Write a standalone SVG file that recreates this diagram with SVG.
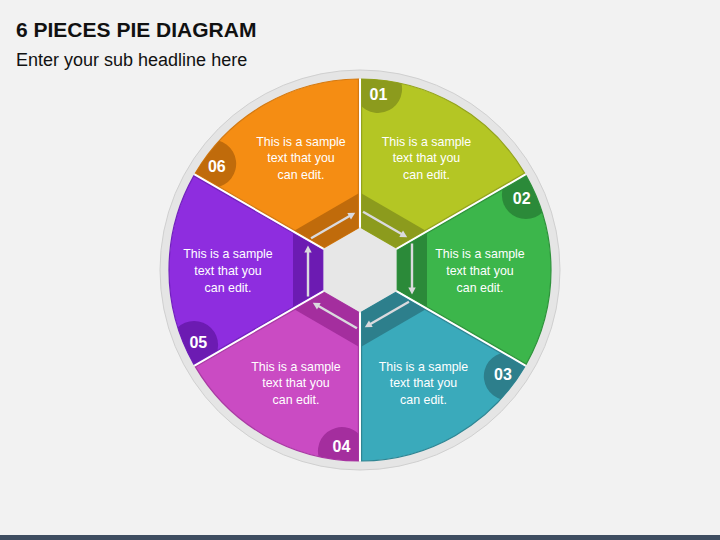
<svg xmlns="http://www.w3.org/2000/svg" xmlns:xlink="http://www.w3.org/1999/xlink" width="720" height="540" viewBox="0 0 720 540">
<style>
.t{font-family:"Liberation Sans",Arial,sans-serif}
.title{font-size:21px;font-weight:bold;fill:#111}
.sub{font-size:18px;fill:#111}
.body{font-size:12.4px;fill:#fff;text-anchor:middle}
.num{font-size:16px;font-weight:bold;fill:#fff;text-anchor:middle}
.arr{stroke:#dadade;stroke-width:2.4;fill:none}
.ah{fill:#dadade}
</style>
<defs>
<path id="slice" d="M37.24,-19.65 L166.2,-94.11 A191,191 0 0 1 166.2,94.11 L37.24,19.65 Z"/>
<path id="band" d="M37.24,-19.65 L67,-36.83 L67,36.83 L37.24,19.65 Z"/>
<clipPath id="sclip"><use xlink:href="#slice" href="#slice"/></clipPath>
<g id="arrow">
<line class="arr" x1="52" y1="-26.5" x2="52" y2="19"/>
<path class="ah" d="M52,24.5 L48.3,17.5 L55.7,17.5 Z"/>
</g>
</defs>
<rect width="720" height="540" fill="#f2f2f2"/>
<rect y="535" width="720" height="5" fill="#3e4d61"/>
<text class="t title" x="16" y="36.5">6 PIECES PIE DIAGRAM</text>
<text class="t sub" x="16" y="65.5">Enter your sub headline here</text>

<g id="base">
<circle cx="360" cy="270" r="200" fill="#e5e5e5" stroke="#d0d0d0" stroke-width="1"/>
<circle cx="360" cy="270" r="191" fill="#ffffff"/>
<polygon points="360,227 397.24,248.5 397.24,291.5 360,313 322.76,291.5 322.76,248.5" fill="#e7e7e7"/>
</g>

<g id="piece-01">
<g transform="translate(360,270) rotate(-60)">
<use href="#slice" xlink:href="#slice" fill="#b4c624" stroke="#93a31c" stroke-width="1.2"/>
<use href="#band" xlink:href="#band" fill="#8c9b1d"/>
<circle cx="165.9" cy="-74.9" r="24" fill="#8c9b1d" clip-path="url(#sclip)"/>
</g>
<text class="t num" x="378.5" y="100">01</text>
<text class="t body" x="426.5" y="145.5">This is a sample<tspan x="426.5" dy="16.8">text that you</tspan><tspan x="426.5" dy="16.8">can edit.</tspan></text>
</g>

<g id="piece-02">
<g transform="translate(360,270)">
<use href="#slice" xlink:href="#slice" fill="#3cb64b" stroke="#2e933b" stroke-width="1.2"/>
<use href="#band" xlink:href="#band" fill="#2b8a39"/>
<circle cx="165.9" cy="-74.9" r="24" fill="#2b8a39" clip-path="url(#sclip)"/>
</g>
<text class="t num" x="521.7" y="204">02</text>
<text class="t body" x="480" y="258">This is a sample<tspan x="480" dy="16.8">text that you</tspan><tspan x="480" dy="16.8">can edit.</tspan></text>
</g>

<g id="piece-03">
<g transform="translate(360,270) rotate(60)">
<use href="#slice" xlink:href="#slice" fill="#3aaabb" stroke="#2e8593" stroke-width="1.2"/>
<use href="#band" xlink:href="#band" fill="#2d7f8c"/>
<circle cx="165.9" cy="-74.9" r="24" fill="#2d7f8c" clip-path="url(#sclip)"/>
</g>
<text class="t num" x="503" y="379.5">03</text>
<text class="t body" x="423.5" y="370.5">This is a sample<tspan x="423.5" dy="16.8">text that you</tspan><tspan x="423.5" dy="16.8">can edit.</tspan></text>
</g>

<g id="piece-04">
<g transform="translate(360,270) rotate(120)">
<use href="#slice" xlink:href="#slice" fill="#ca4bc3" stroke="#a93aa3" stroke-width="1.2"/>
<use href="#band" xlink:href="#band" fill="#a42e9e"/>
<circle cx="165.9" cy="-74.9" r="24" fill="#a42e9e" clip-path="url(#sclip)"/>
</g>
<text class="t num" x="341.5" y="451.5">04</text>
<text class="t body" x="296" y="370.5">This is a sample<tspan x="296" dy="16.8">text that you</tspan><tspan x="296" dy="16.8">can edit.</tspan></text>
</g>

<g id="piece-05">
<g transform="translate(360,270) rotate(180)">
<use href="#slice" xlink:href="#slice" fill="#8e2ddf" stroke="#7220be" stroke-width="1.2"/>
<use href="#band" xlink:href="#band" fill="#6c1bb2"/>
<circle cx="165.9" cy="-74.9" r="24" fill="#6c1bb2" clip-path="url(#sclip)"/>
</g>
<text class="t num" x="198.3" y="347.5">05</text>
<text class="t body" x="228" y="258">This is a sample<tspan x="228" dy="16.8">text that you</tspan><tspan x="228" dy="16.8">can edit.</tspan></text>
</g>

<g id="piece-06">
<g transform="translate(360,270) rotate(240)">
<use href="#slice" xlink:href="#slice" fill="#f58d13" stroke="#d47910" stroke-width="1.2"/>
<use href="#band" xlink:href="#band" fill="#c06b0b"/>
<circle cx="165.9" cy="-74.9" r="24" fill="#c06b0b" clip-path="url(#sclip)"/>
</g>
<text class="t num" x="216.8" y="171.5">06</text>
<text class="t body" x="301" y="145.5">This is a sample<tspan x="301" dy="16.8">text that you</tspan><tspan x="301" dy="16.8">can edit.</tspan></text>
</g>

<g id="connectors">
<use href="#arrow" xlink:href="#arrow" transform="translate(360,270) rotate(-60)"/>
<use href="#arrow" xlink:href="#arrow" transform="translate(360,270)"/>
<use href="#arrow" xlink:href="#arrow" transform="translate(360,270) rotate(60)"/>
<use href="#arrow" xlink:href="#arrow" transform="translate(360,270) rotate(120)"/>
<use href="#arrow" xlink:href="#arrow" transform="translate(360,270) rotate(180)"/>
<use href="#arrow" xlink:href="#arrow" transform="translate(360,270) rotate(240)"/>
</g>
</svg>
